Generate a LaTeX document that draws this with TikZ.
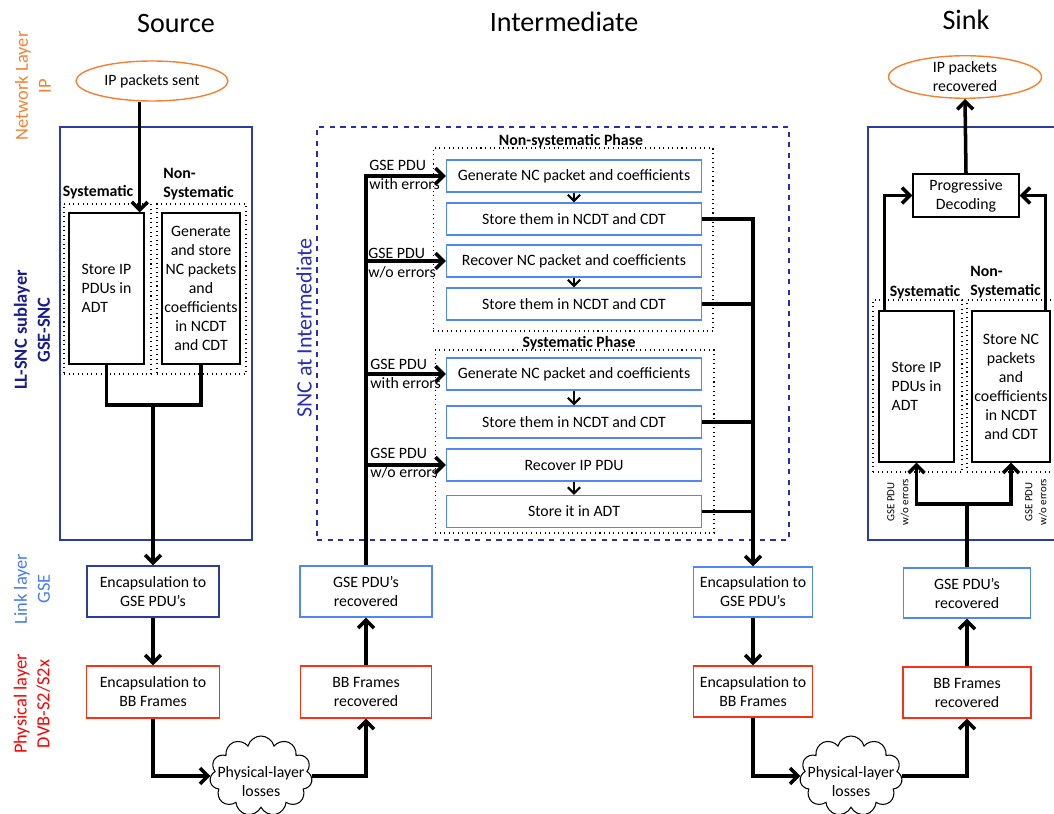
\documentclass[tikz,border=0pt]{standalone}
\usepackage{fontspec}
\setmainfont{Carlito}
\usetikzlibrary{calc,arrows.meta,shapes.geometric,shapes.symbols}

\definecolor{ipor}{RGB}{242,130,50}
\definecolor{sncnavy}{RGB}{25,30,140}
\definecolor{dblue}{RGB}{45,60,160}
\definecolor{lblue}{RGB}{80,135,245}
\definecolor{linkblue}{RGB}{70,125,235}
\definecolor{redb}{RGB}{250,50,20}
\definecolor{intblue}{RGB}{40,45,185}

\begin{document}
\begin{tikzpicture}[x=0.02cm,y=-0.02cm,
    font=\fontsize{9}{10.8}\selectfont,
    title/.style={font=\fontsize{16}{19}\selectfont},
    side/.style={rotate=90, align=center, inner sep=0pt, font=\fontsize{10.5}{13}\selectfont},
    box/.style={draw, line width=0.8pt, align=center, inner sep=1pt},
    ibox/.style={box, draw=lblue, minimum width=5.1cm, minimum height=0.64cm},
    frame/.style={draw, line width=0.8pt, inner sep=0pt},
    dotbox/.style={draw, dotted, line width=0.6pt, inner sep=0pt},
    ipell/.style={ellipse, draw=ipor, line width=0.8pt, minimum width=3.04cm, minimum height=0.8cm, inner sep=0pt, align=center},
    losscloud/.style={cloud, draw, line width=0.6pt, cloud puffs=11, cloud ignores aspect, minimum width=2.05cm, minimum height=1.6cm, inner sep=0pt},
    losstext/.style={align=center, inner sep=0pt},
    lbl/.style={font=\fontsize{9}{10.8}\selectfont\bfseries, inner sep=0pt},
    elbl/.style={align=left, anchor=west, inner sep=0pt},
    tinylbl/.style={rotate=90, align=center, inner sep=0pt, font=\fontsize{6.2}{8}\selectfont},
    link/.style={line width=2pt},
    flow/.style={line width=2pt, -{Straight Barb[length=4.5pt,width=9pt]}},
    sflow/.style={line width=1.2pt, -{Straight Barb[length=3.5pt,width=7pt]}}]
\useasboundingbox (0,0) rectangle (1054,814);

% titles and layer labels
\node[title] (tsrc) at (176,23) {Source};
\node[title] (tint) at (564,22) {Intermediate};
\node[title] (tsink) at (966,20) {Sink};
\node[side, text=ipor] (lnet) at (33,86) {Network Layer\\IP};
\node[side, text=sncnavy, font=\fontsize{10.5}{13}\selectfont\bfseries] (lsnc) at (32,330) {LL-SNC sublayer\\GSE-SNC};
\node[side, text=linkblue] (llink) at (32,589) {Link layer\\GSE};
\node[side, text=red] (lphy) at (32,704) {Physical layer\\DVB-S2/S2x};

% source
\node[ipell] (ipsent) at (152,81) {IP packets sent};
\node[frame, draw=dblue, minimum width=3.84cm, minimum height=8.26cm] (srcsnc) at (156,333.5) {};
\node[dotbox, minimum width=1.74cm, minimum height=3.4cm] (srcsysd) at (107.5,289) {};
\node[dotbox, minimum width=1.78cm, minimum height=3.4cm] (srcnsysd) at (201.5,289) {};
\node[lbl] (srcsysl) at (98,192) {Systematic};
\node[lbl, align=left, anchor=west] (srcnsysl) at (163,184) {Non-\\Systematic};
\node[box, align=left, minimum width=1.5cm, minimum height=3.02cm] (srcadt) at (106.5,288.5) {Store IP\\PDUs in\\ADT};
\node[box, minimum width=1.56cm, minimum height=3.02cm] (srcncdt) at (201,288.5) {Generate\\and store\\NC packets\\and\\coefficients\\in NCDT\\and CDT};
\node[box, draw=dblue, minimum width=2.64cm, minimum height=1.02cm] (encgse) at (153,591.5) {Encapsulation to\\GSE PDU’s};
\node[box, draw=redb, minimum width=2.66cm, minimum height=1.04cm] (encbb) at (153,692) {Encapsulation to\\BB Frames};
\node[losscloud] (loss1) at (261,776) {};
\node[losstext] (loss1t) at (261,782) {Physical-layer\\losses};

\coordinate (srcin) at ($(srcadt.north east)+(-5,0)$);
\coordinate (srcjoin) at (153,405);
\draw[flow] (ipsent.south -| srcin) -- (srcin);
\draw[link] (srcadt.south) |- (srcjoin) -| (srcncdt.south);
\draw[flow] (srcjoin) -- (encgse.north);
\draw[flow] (encgse.south) -- (encbb.north);
\draw[flow] (encbb.south) |- (loss1.west);

% intermediate
\node[box, draw=redb, minimum width=2.62cm, minimum height=1.04cm] (bbrec) at (366,692) {BB Frames\\recovered};
\node[box, draw=lblue, minimum width=2.64cm, minimum height=1.02cm] (gserec) at (366,591.5) {GSE PDU’s\\recovered};
\node[frame, dashed, draw=intblue, minimum width=9.44cm, minimum height=8.26cm] (intsnc) at (553,333.5) {};
\node[side, text=intblue, font=\fontsize{12.5}{15}\selectfont] (lint) at (304,328) {SNC at Intermediate};
\node[dotbox, minimum width=5.6cm, minimum height=3.66cm] (nsdot) at (573,239.5) {};
\node[dotbox, minimum width=5.58cm, minimum height=3.66cm] (sdot) at (574.5,441.5) {};
\node[lbl] (nsl) at (571,141) {Non-systematic Phase};
\node[lbl] (sl) at (579,343) {Systematic Phase};
\node[ibox] (gen1) at (574,176) {Generate NC packet and coefficients};
\node[ibox] (sto1) at (574,219) {Store them in NCDT and CDT};
\node[ibox] (rec1) at (574,261) {Recover NC packet and coefficients};
\node[ibox] (sto2) at (574,304) {Store them in NCDT and CDT};
\node[ibox] (gen2) at (574,374) {Generate NC packet and coefficients};
\node[ibox] (sto3) at (574,422) {Store them in NCDT and CDT};
\node[ibox] (rec2) at (574,465) {Recover IP PDU};
\node[ibox] (adt1) at (574,511.5) {Store it in ADT};
\node[elbl] (e1) at (369,175) {GSE PDU\\with errors};
\node[elbl] (e2) at (368,263) {GSE PDU\\w/o errors};
\node[elbl] (e3) at (370,374) {GSE PDU\\with errors};
\node[elbl] (e4) at (370,463) {GSE PDU\\w/o errors};
\node[box, draw=lblue, minimum width=2.38cm, minimum height=1cm] (encgse2) at (753,592) {Encapsulation to\\GSE PDU’s};
\node[box, draw=redb, minimum width=2.38cm, minimum height=1.02cm] (encbb2) at (753,691.5) {Encapsulation to\\BB Frames};
\node[losscloud] (loss2) at (851,776) {};
\node[losstext] (loss2t) at (851,782) {Physical-layer\\losses};

\draw[flow] (loss1.east) -| (bbrec.south);
\draw[flow] (bbrec.north) -- (gserec.south);
\draw[flow] (gserec.north) |- (gen1.west);
\foreach \b in {rec1,gen2,rec2}
    \draw[flow] (gserec.north |- \b.west) -- (\b.west);
\draw[sflow] (gen1.south) -- (sto1.north);
\draw[sflow] (rec1.south) -- (sto2.north);
\draw[sflow] (gen2.south) -- (sto3.north);
\draw[sflow] (rec2.south) -- (adt1.north);
\draw[flow] (sto1.east) -| (encgse2.north);
\foreach \b in {sto2,sto3,adt1}
    \draw[link] (\b.east) -- (\b.east -| encgse2.north);
\draw[flow] (encgse2.south) -- (encbb2.north);
\draw[flow] (encbb2.south) |- (loss2.west);

% sink
\node[box, draw=redb, minimum width=2.56cm, minimum height=1.02cm] (bbrec2) at (967,692.5) {BB Frames\\recovered};
\node[box, draw=lblue, minimum width=2.54cm, minimum height=1cm] (gserec2) at (967,593) {GSE PDU’s\\recovered};
\node[frame, draw=dblue, minimum width=3.92cm, minimum height=8.26cm] (sinksnc) at (966,333.5) {};
\node[ipell, minimum width=3.06cm, minimum height=0.84cm] (iprec) at (965,77) {IP packets\\recovered};
\node[box, minimum width=2.12cm, minimum height=0.86cm] (prog) at (966,195.5) {Progressive\\Decoding};
\node[dotbox, minimum width=1.78cm, minimum height=3.44cm] (sksysd) at (917.5,386) {};
\node[dotbox, minimum width=1.86cm, minimum height=3.44cm] (sknsysd) at (1013.5,386) {};
\node[lbl] (sksysl) at (925,292) {Systematic};
\node[lbl, align=left, anchor=west] (sknsysl) at (970,282) {Non-\\Systematic};
\node[box, align=left, minimum width=1.5cm, minimum height=3.02cm] (skadt) at (916.5,386.5) {Store IP\\PDUs in\\ADT};
\node[box, minimum width=1.56cm, minimum height=3.02cm] (skncdt) at (1011,386.5) {Store NC\\packets\\and\\coefficients\\in NCDT\\and CDT};
\node[tinylbl] (sklbl1) at (898,502) {GSE PDU\\w/o errors};
\node[tinylbl] (sklbl2) at (1036,502) {GSE PDU\\w/o errors};

\coordinate (skjoin) at (967,504);
\coordinate (skout1) at ($(skadt.north west)+(6,0)$);
\coordinate (skout2) at ($(skncdt.north east)+(-5,0)$);
\draw[flow] (loss2.east) -| (bbrec2.south);
\draw[flow] (bbrec2.north) -- (gserec2.south);
\draw[link] (gserec2.north) -- (skjoin);
\draw[flow] (skjoin) -| (skadt.south);
\draw[flow] (skjoin) -| (skncdt.south);
\draw[flow] (skout1) |- (prog.west);
\draw[flow] (skout2) |- (prog.east);
\draw[flow] (prog.north) -- (iprec.south);
\end{tikzpicture}
\end{document}
